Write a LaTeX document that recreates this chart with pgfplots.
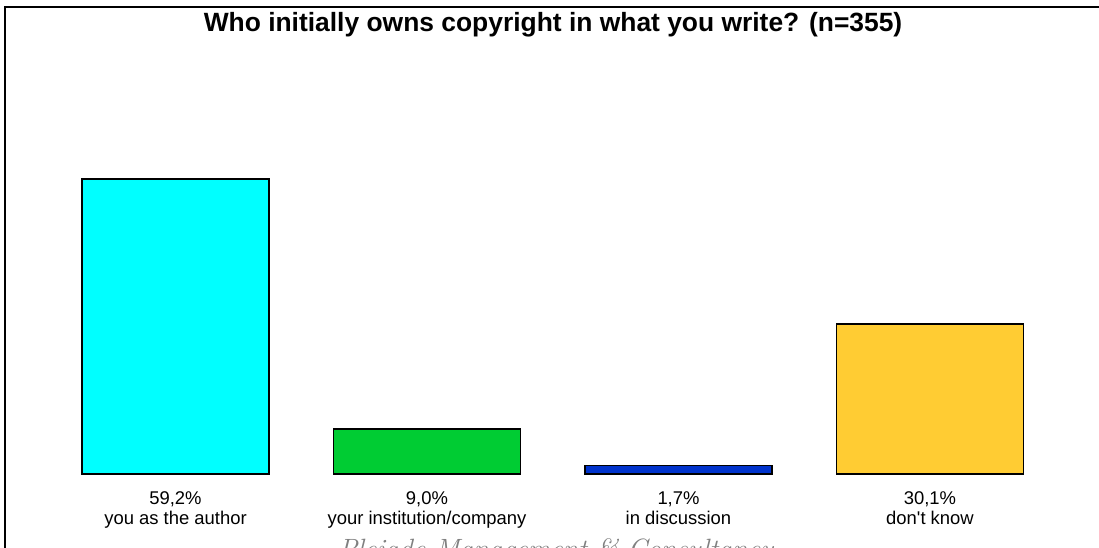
\documentclass[border=0pt]{standalone}
\usepackage{pgfplots}
\pgfplotsset{compat=1.18}
\usepackage{fontspec}
\setsansfont{Liberation Sans}[Ligatures=TeXOff]
\definecolor{cyanbar}{RGB}{0,255,255}
\definecolor{greenbar}{RGB}{0,204,51}
\definecolor{bluebar}{RGB}{0,51,204}
\definecolor{yellowbar}{RGB}{255,204,51}
\begin{document}
\begin{tikzpicture}
\useasboundingbox (0,0) rectangle (1099bp,-548bp);
\draw[line width=2bp] (5bp,-560bp) -- (5bp,-7bp) -- (1110bp,-7bp);
\node[font=\sffamily\bfseries\fontsize{26.5}{30}\selectfont, anchor=center] at (553bp,-25bp) {Who initially owns copyright in what you write? (n=355)};
\begin{axis}[
  at={(49.75bp,-474bp)}, anchor=south west,
  scale only axis, width=1006bp, height=398.6bp,
  xmin=-0.5, xmax=3.5, ymin=0, ymax=80,
  axis line style={draw=none},
  tick style={draw=none},
  ybar, bar width=187bp, bar shift=0pt,
  xtick={0,1,2,3},
  xticklabels={{59,2\%\\you as the author},{9,0\%\\your institution/company},{1,7\%\\in discussion},{30,1\%\\don't know}},
  xticklabel style={font=\sffamily\fontsize{18.5}{20.5}\selectfont, align=center, anchor=north, inner sep=0pt, yshift=-13bp},
  ytick=\empty,
  clip=false,
]
\addplot[ybar, bar shift=0pt, draw=black, line width=1.6bp, fill=cyanbar] coordinates {(0,59.2)};
\addplot[ybar, bar shift=0pt, draw=black, line width=1.6bp, fill=greenbar] coordinates {(1,9.0)};
\addplot[ybar, bar shift=0pt, draw=black, line width=1.6bp, fill=bluebar] coordinates {(2,1.7)};
\addplot[ybar, bar shift=0pt, draw=black, line width=1.6bp, fill=yellowbar] coordinates {(3,30.1)};
\end{axis}
\node[font=\rmfamily\itshape\fontsize{28}{30}\selectfont, text=black!50, anchor=base, inner sep=0pt] at (556bp,-558bp) {Pleiade Management \& Consultancy};
\end{tikzpicture}
\end{document}
